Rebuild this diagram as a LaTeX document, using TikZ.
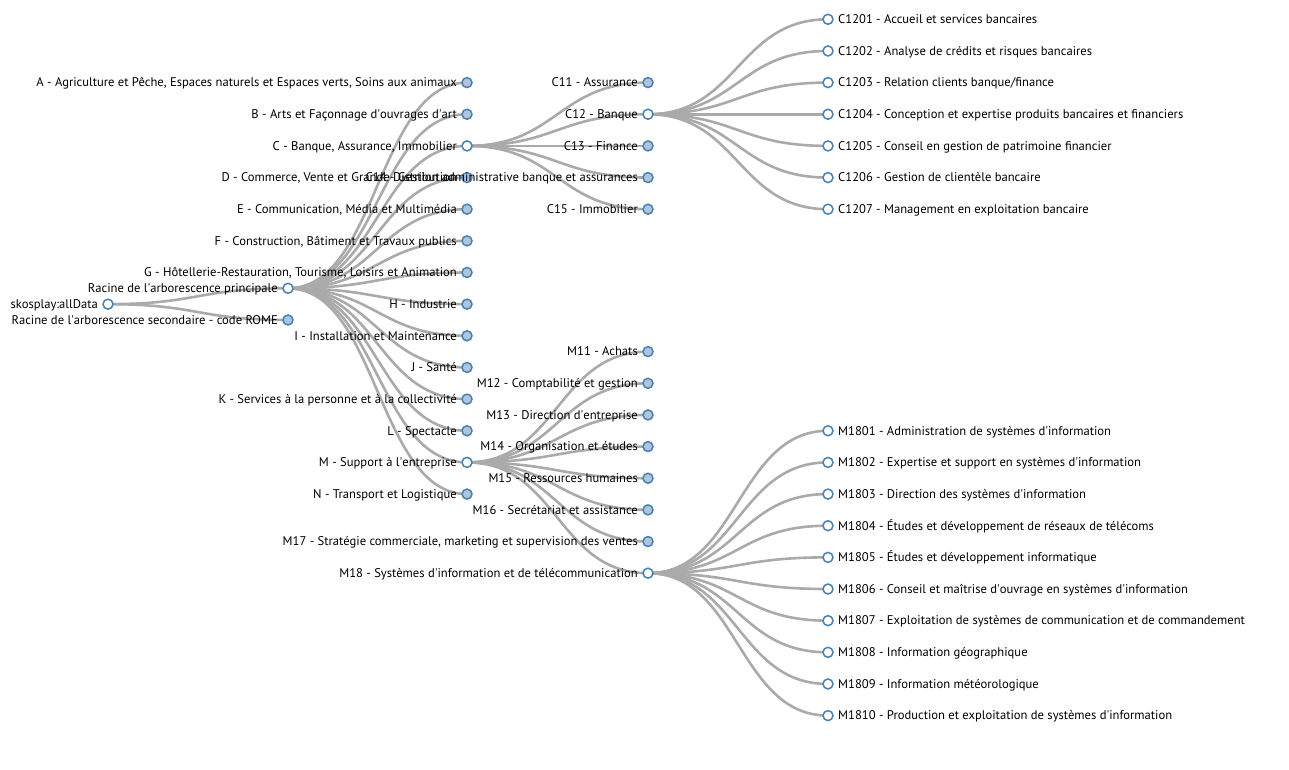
\documentclass[tikz,border=0pt]{standalone}
\usepackage{fontspec}
\setmainfont{PT Sans}
\usetikzlibrary{calc}
\pgfdeclarelayer{bg}\pgfsetlayers{bg,main}
\definecolor{steel}{HTML}{4682B4}
\definecolor{lsteel}{HTML}{B0C4DE}
\definecolor{lnkc}{HTML}{AAAAAA}
\newcommand\ap{\textquotesingle}
\tikzset{
  nd/.style={circle,draw=steel,line width=1.5pt,minimum size=10pt,inner sep=0pt},
  opn/.style={nd,fill=white},
  shut/.style={nd,fill=lsteel},
  lbl/.style={inner sep=0pt,font=\fontsize{12.6}{14}\selectfont,text=black},
  edge/.style={draw=lnkc,line width=2.6pt},
}
\newcommand\Ln[5]{%
  \node[#4] (#1) at (#2,{19.3+31.65*#3}) {};
  \node[lbl,anchor=base east] (#1-t) at ([xshift=-10pt,yshift=-4.3pt]#1.center) {#5};}
\newcommand\Rn[5]{%
  \node[#4] (#1) at (#2,{19.3+31.65*#3}) {};
  \node[lbl,anchor=base west] (#1-t) at ([xshift=10pt,yshift=-4.3pt]#1.center) {#5};}
\newcommand\lk[2]{%
  \begin{pgfonlayer}{bg}
  \draw[edge] let \p1=(#1.center),\p2=(#2.center) in
    (\p1) .. controls ({0.5*\x1+0.5*\x2},\y1) and ({0.5*\x1+0.5*\x2},\y2) .. (\p2);
  \end{pgfonlayer}}
\begin{document}
\begin{tikzpicture}[x=1pt,y=-1pt]
\useasboundingbox (0,0) rectangle (1289,769);
\begin{pgfonlayer}{bg}
\fill[white] (0,0) rectangle (1289,769);
\end{pgfonlayer}
% level 0 and 1
\Ln{root}{108}{9}{opn}{skosplay:allData}
\Ln{p1}{288}{8.5}{opn}{Racine de l\ap arborescence principale}
\Ln{p2}{288}{9.5}{shut}{Racine de l\ap arborescence secondaire - code ROME}
% level 2
\Ln{A}{467}{2}{shut}{A - Agriculture et Pêche, Espaces naturels et Espaces verts, Soins aux animaux}
\Ln{B}{467}{3}{shut}{B - Arts et Façonnage d\ap ouvrages d\ap art}
\Ln{C}{467}{4}{opn}{C - Banque, Assurance, Immobilier}
\Ln{D}{467}{5}{shut}{D - Commerce, Vente et Grande Distribution}
\Ln{E}{467}{6}{shut}{E - Communication, Média et Multimédia}
\Ln{F}{467}{7}{shut}{F - Construction, Bâtiment et Travaux publics}
\Ln{G}{467}{8}{shut}{G - Hôtellerie-Restauration, Tourisme, Loisirs et Animation}
\Ln{H}{467}{9}{shut}{H - Industrie}
\Ln{I}{467}{10}{shut}{I - Installation et Maintenance}
\Ln{J}{467}{11}{shut}{J - Santé}
\Ln{K}{467}{12}{shut}{K - Services à la personne et à la collectivité}
\Ln{L}{467}{13}{shut}{L - Spectacle}
\Ln{M}{467}{14}{opn}{M - Support à l\ap entreprise}
\Ln{N}{467}{15}{shut}{N - Transport et Logistique}
% level 3
\Ln{C11}{648}{2}{shut}{C11 - Assurance}
\Ln{C12}{648}{3}{opn}{C12 - Banque}
\Ln{C13}{648}{4}{shut}{C13 - Finance}
\Ln{C14}{648}{5}{shut}{C14 - Gestion administrative banque et assurances}
\Ln{C15}{648}{6}{shut}{C15 - Immobilier}
\Ln{M11}{648}{10.5}{shut}{M11 - Achats}
\Ln{M12}{648}{11.5}{shut}{M12 - Comptabilité et gestion}
\Ln{M13}{648}{12.5}{shut}{M13 - Direction d\ap entreprise}
\Ln{M14}{648}{13.5}{shut}{M14 - Organisation et études}
\Ln{M15}{648}{14.5}{shut}{M15 - Ressources humaines}
\Ln{M16}{648}{15.5}{shut}{M16 - Secrétariat et assistance}
\Ln{M17}{648}{16.5}{shut}{M17 - Stratégie commerciale, marketing et supervision des ventes}
\Ln{M18}{648}{17.5}{opn}{M18 - Systèmes d\ap information et de télécommunication}
% level 4
\Rn{C1201}{828}{0}{opn}{C1201 - Accueil et services bancaires}
\Rn{C1202}{828}{1}{opn}{C1202 - Analyse de crédits et risques bancaires}
\Rn{C1203}{828}{2}{opn}{C1203 - Relation clients banque/finance}
\Rn{C1204}{828}{3}{opn}{C1204 - Conception et expertise produits bancaires et financiers}
\Rn{C1205}{828}{4}{opn}{C1205 - Conseil en gestion de patrimoine financier}
\Rn{C1206}{828}{5}{opn}{C1206 - Gestion de clientèle bancaire}
\Rn{C1207}{828}{6}{opn}{C1207 - Management en exploitation bancaire}
\Rn{M1801}{828}{13}{opn}{M1801 - Administration de systèmes d\ap information}
\Rn{M1802}{828}{14}{opn}{M1802 - Expertise et support en systèmes d\ap information}
\Rn{M1803}{828}{15}{opn}{M1803 - Direction des systèmes d\ap information}
\Rn{M1804}{828}{16}{opn}{M1804 - Études et développement de réseaux de télécoms}
\Rn{M1805}{828}{17}{opn}{M1805 - Études et développement informatique}
\Rn{M1806}{828}{18}{opn}{M1806 - Conseil et maîtrise d\ap ouvrage en systèmes d\ap information}
\Rn{M1807}{828}{19}{opn}{M1807 - Exploitation de systèmes de communication et de commandement}
\Rn{M1808}{828}{20}{opn}{M1808 - Information géographique}
\Rn{M1809}{828}{21}{opn}{M1809 - Information météorologique}
\Rn{M1810}{828}{22}{opn}{M1810 - Production et exploitation de systèmes d\ap information}
% links
\lk{root}{p1}\lk{root}{p2}
\foreach \c in {A,B,C,D,E,F,G,H,I,J,K,L,M,N} {\lk{p1}{\c}}
\foreach \c in {C11,C12,C13,C14,C15} {\lk{C}{\c}}
\foreach \c in {M11,M12,M13,M14,M15,M16,M17,M18} {\lk{M}{\c}}
\foreach \c in {C1201,C1202,C1203,C1204,C1205,C1206,C1207} {\lk{C12}{\c}}
\foreach \c in {M1801,M1802,M1803,M1804,M1805,M1806,M1807,M1808,M1809,M1810} {\lk{M18}{\c}}
\end{tikzpicture}
\end{document}
